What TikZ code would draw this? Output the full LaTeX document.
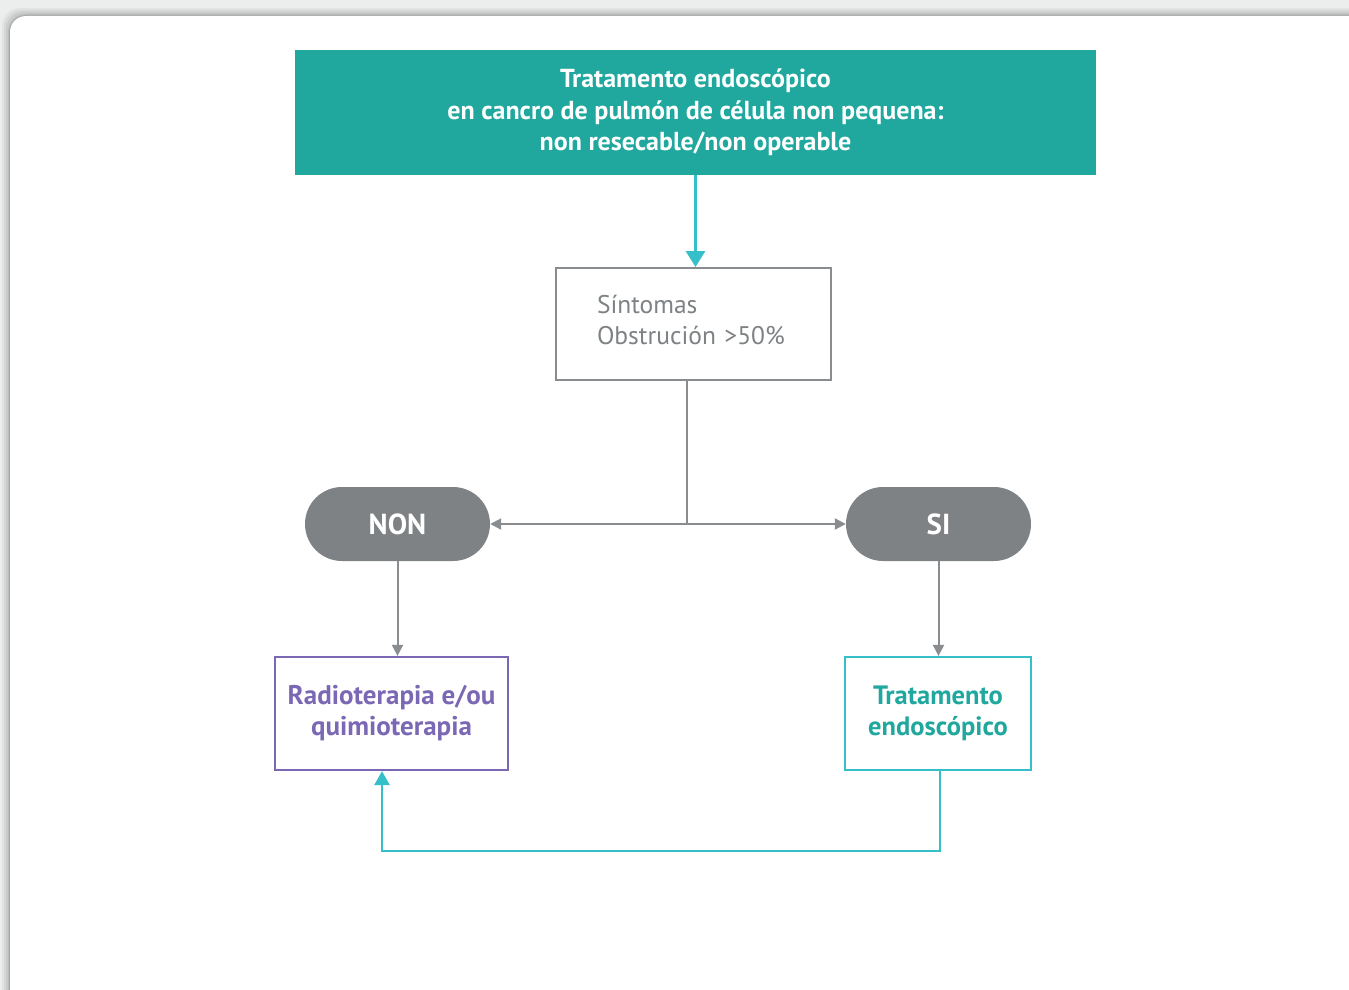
\documentclass[tikz,border=0pt]{standalone}
\usepackage{fontspec}
\setmainfont{PT Sans}
\usetikzlibrary{arrows.meta,positioning,calc}
\definecolor{headteal}{HTML}{20A89E}
\definecolor{linkcyan}{HTML}{35BFC8}
\definecolor{ovalgray}{HTML}{7E8284}
\definecolor{linegray}{HTML}{8A8D8F}
\definecolor{txtgray}{HTML}{7E8284}
\definecolor{purp}{HTML}{7B68B5}
\definecolor{pagegray}{HTML}{ECEEEE}
\tikzset{
  header/.style={fill=headteal, draw=none, text=white, align=center,
    minimum width=801pt, minimum height=125pt, inner sep=0pt,
    font=\fontsize{26}{31.5}\selectfont\bfseries},
  graybox/.style={draw=linegray, line width=2pt, fill=white, text=txtgray,
    minimum width=275pt, minimum height=112pt, inner xsep=41pt,
    text width=193pt, align=left, font=\fontsize{25.5}{31}\selectfont},
  pill/.style={fill=ovalgray, draw=none, rounded corners=37pt, text=white,
    minimum width=185pt, minimum height=74pt, inner sep=0pt,
    font=\fontsize{29}{34}\selectfont\bfseries},
  purpbox/.style={draw=purp, line width=2.2pt, fill=white, text=purp,
    minimum width=233pt, minimum height=113pt, inner sep=0pt, align=center,
    font=\fontsize{27}{31}\selectfont\bfseries},
  tealbox/.style={draw=linkcyan, line width=2.2pt, fill=white, text=headteal,
    minimum width=186pt, minimum height=113pt, inner sep=0pt, align=center,
    font=\fontsize{26.5}{31}\selectfont\bfseries},
  grayarrow/.style={draw=linegray, line width=2pt,
    -{Triangle[width=11pt,length=11pt]}},
  cyanarrow/.style={draw=linkcyan, line width=3pt,
    -{Triangle[width=19pt,length=16pt]}},
}
\begin{document}
\begin{tikzpicture}[x=1pt,y=-1pt]
\useasboundingbox (0,0) rectangle (1349,990);
% page backdrop with a soft shadow round the card
\fill[pagegray] (0,0) rectangle (1349,990);
\foreach \d/\o in {8/0.04,6/0.05,4/0.06,2/0.08,1/0.1}{
  \fill[black,opacity=\o,rounded corners=18pt] (10-\d,16-\d) rectangle (1380,1020);
}
\fill[white,rounded corners=16pt] (10,16) rectangle (1380,1020);

% nodes
\node[header] (head) at (695.5,112.5)
  {Tratamento endoscópico\\en cancro de pulmón de célula non pequena:\\non resecable/non operable};
\node[graybox] (sym) at (693.5,324) {\raisebox{9pt}{\parbox[b]{193pt}{Síntomas\\Obstrución >50\%}}};
\node[pill] (non) at (397.5,524) {NON};
\node[pill] (si) at (938.5,524) {SI};
\node[purpbox] (radio) at (391.5,713.5) {Radioterapia e/ou\\quimioterapia};
\node[tealbox] (endo) at (938,713.5) {Tratamento\\endoscópico};

% connectors
\draw[cyanarrow] (head.south) -- (head.south |- sym.north);
\coordinate (split) at ($(sym.south)+(-6.5,143)$);
\draw[draw=linegray, line width=2pt] (split |- sym.south) -- (split);
\draw[grayarrow] (split) -- (non.east);
\draw[grayarrow] (split) -- (si.west);
\draw[grayarrow] (non.south) -- (non.south |- radio.north);
\draw[grayarrow] (si.south) -- (si.south |- endo.north);
\coordinate (back) at ($(radio.south)+(-9.5,0)$);
\draw[cyanarrow, line width=2.5pt, -{Triangle[width=15pt,length=14pt]}]
  ($(endo.south)+(2,0)$) -- ++(0,80) -| (back);
\end{tikzpicture}
\end{document}
